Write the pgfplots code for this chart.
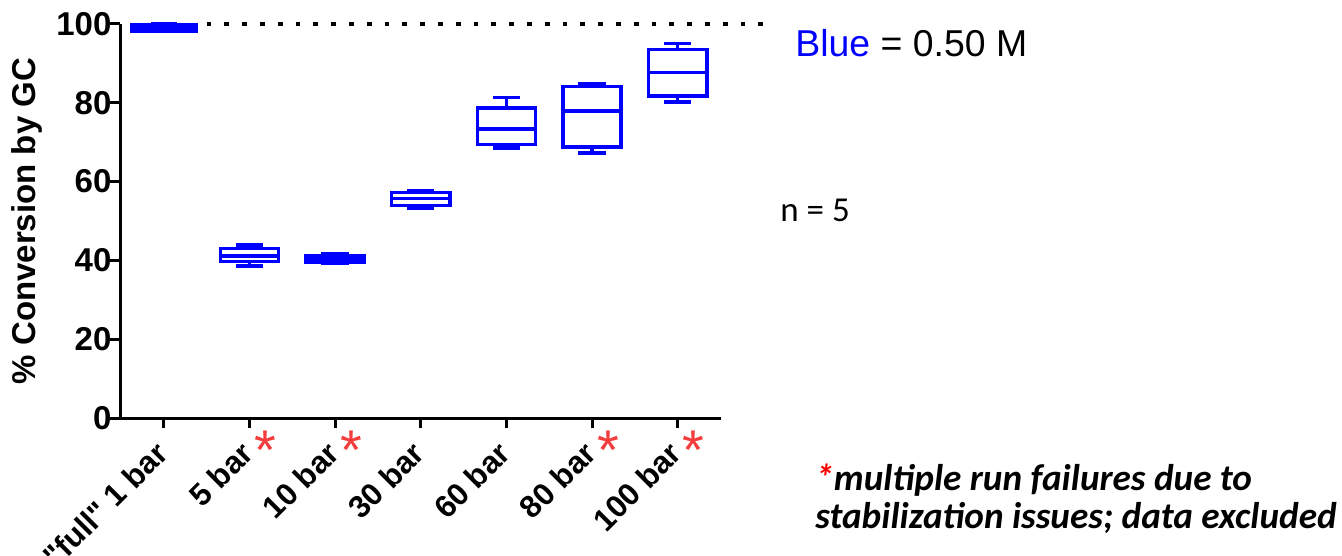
\documentclass[border=0pt]{standalone}
\usepackage{pgfplots}
\pgfplotsset{compat=1.18}
\usepgfplotslibrary{statistics}
\usepackage{fontspec}
\setmainfont{Liberation Sans}[Ligatures=TeXOff]
\newfontfamily\calibri{Carlito}
\definecolor{boxblue}{RGB}{0,0,255}
\definecolor{starred}{RGB}{245,60,60}
\begin{document}
\begin{tikzpicture}
\path[use as bounding box] (-60.25pt,-69pt) rectangle (610.75pt,209pt);
\begin{axis}[
  scale only axis, width=300pt, height=197pt,
  xmin=-0.505, xmax=6.5, ymin=0, ymax=100,
  axis x line*=bottom, axis y line*=left,
  axis line style={line width=1.5pt},
  xtick={0,...,6},
  xticklabels={"full" 1 bar, 5 bar, 10 bar, 30 bar, 60 bar, 80 bar, 100 bar},
  ytick={0,20,40,60,80,100}, yticklabels={0,20,40,60,80,100},
  tick align=outside, major tick length=5pt,
  tick style={black, line width=1.5pt},
  ticklabel style={font=\bfseries\fontsize{16.5}{18}\selectfont},
  xticklabel style={font=\bfseries\fontsize{15.6}{18}\selectfont, xshift=1.5pt, yshift=-7.5pt, rotate=45, anchor=east},
  yticklabel style={xshift=4pt},
  ylabel={\% Conversion by GC},
  ylabel style={font=\bfseries\fontsize{16.5}{18}\selectfont, at={(axis description cs:0,0.5)}, anchor=center, yshift=46.75pt},
  clip=false,
  boxplot/draw direction=y,
]
\addplot[black, line width=2.4pt, dash pattern=on 2.4pt off 6.5pt] coordinates {(0.5,100) (7.08,100)};
\addplot[boxblue, line width=1.7pt, fill=boxblue, boxplot prepared={draw position=0, lower whisker=98.1, lower quartile=98.2, median=99.0, upper quartile=99.9, upper whisker=100, box extend=0.76, whisker extend=0.3}] coordinates {};
\addplot[boxblue, line width=1.7pt, boxplot prepared={draw position=1, lower whisker=38.6, lower quartile=39.7, median=41.1, upper quartile=43.0, upper whisker=43.9, box extend=0.68, whisker extend=0.32}] coordinates {};
\addplot[boxblue, line width=1.7pt, boxplot prepared={draw position=2, lower whisker=39.2, lower quartile=39.6, median=40.5, upper quartile=41.2, upper whisker=41.6, box extend=0.68, whisker extend=0.32}] coordinates {};
\addplot[boxblue, line width=1.7pt, boxplot prepared={draw position=3, lower whisker=53.3, lower quartile=54.0, median=55.7, upper quartile=57.2, upper whisker=57.6, box extend=0.68, whisker extend=0.32}] coordinates {};
\addplot[boxblue, line width=1.7pt, boxplot prepared={draw position=4, lower whisker=68.5, lower quartile=69.4, median=73.3, upper quartile=78.7, upper whisker=81.4, box extend=0.68, whisker extend=0.32}] coordinates {};
\addplot[boxblue, line width=1.7pt, boxplot prepared={draw position=5, lower whisker=67.3, lower quartile=68.8, median=77.9, upper quartile=84.2, upper whisker=84.8, box extend=0.68, whisker extend=0.32}] coordinates {};
\addplot[boxblue, line width=1.7pt, boxplot prepared={draw position=6, lower whisker=80.2, lower quartile=81.7, median=87.7, upper quartile=93.5, upper whisker=95.1, box extend=0.68, whisker extend=0.32}] coordinates {};
\pgfplotsinvokeforeach{1,2,5,6}{
  \node[text=starred, font=\fontsize{28}{28}\selectfont, inner sep=0pt, xshift=8pt, yshift=-16pt] at (axis cs:#1,0) {*};
}
\end{axis}
\node[anchor=base west, inner sep=0pt, font=\fontsize{18.7}{20}\selectfont] at (337.25pt,180.5pt) {\textcolor{boxblue}{Blue} = 0.50 M};
\node[anchor=base west, inner sep=0pt, font=\calibri\fontsize{17.5}{20}\selectfont] at (329.75pt,98pt) {n = 5};
\node[anchor=base west, inner sep=0pt, font=\calibri\bfseries\itshape\fontsize{18.6}{19}\selectfont] at (347.25pt,-36pt) {\textcolor{red}{*}multiple run failures due to};
\node[anchor=base west, inner sep=0pt, font=\calibri\bfseries\itshape\fontsize{18.6}{19}\selectfont] at (347.25pt,-55pt) {stabilization issues; data excluded};
\end{tikzpicture}
\end{document}
